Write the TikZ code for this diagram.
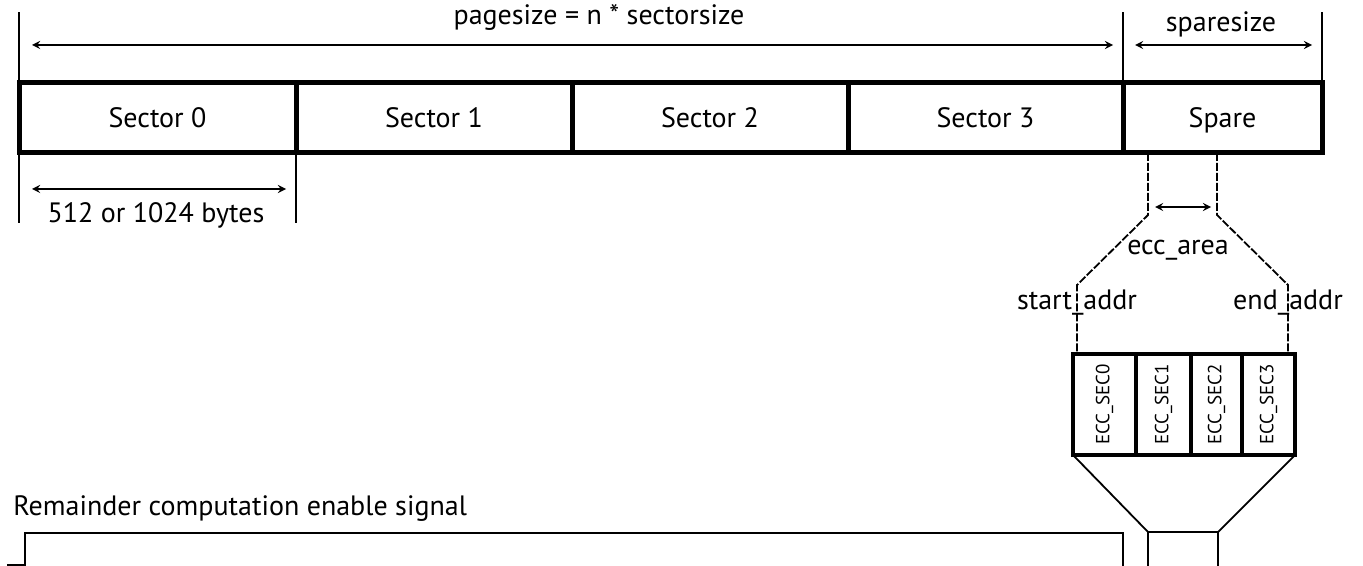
\documentclass[tikz,border=0pt]{standalone}
\usepackage{fontspec}
\setmainfont{PT Sans}
\usepackage{tikz}
\usetikzlibrary{positioning}

\begin{document}
\begin{tikzpicture}[
  x=0.5pt, y=-0.5pt,
  every node/.style={font=\fontsize{14}{16}\selectfont, inner sep=0pt},
  cell/.style={draw, line width=2.5pt, outer sep=0pt, minimum height=35pt,
    text height=10pt, text depth=0pt},
  ecc/.style={draw, line width=1.8pt, outer sep=0pt, minimum height=50.5pt,
    font=\fontsize{9.5}{11}\selectfont},
  tick/.style={line width=0.8pt},
  dim/.style={<->, >=stealth, line width=0.8pt},
  dashln/.style={line width=0.9pt, dash pattern=on 4pt off 1pt},
  thinln/.style={line width=0.9pt},
]
\useasboundingbox (0,0) rectangle (1363,566);

% Page row
\node (sec0) [cell, minimum width=138.5pt] at (157.5,118) {Sector 0};
\node (sec1) [cell, minimum width=138pt] at (434,118) {Sector 1};
\node (sec2) [cell, minimum width=138pt] at (710,118) {Sector 2};
\node (sec3) [cell, minimum width=137.5pt] at (985.5,118) {Sector 3};
\node (spare) [cell, minimum width=99.5pt] at (1222.5,118) {Spare};

% Dimension ticks
\coordinate (top) at (0,12);
\coordinate (low) at (0,223);
\draw[tick] (sec0.north west) -- (sec0.north west |- top);
\draw[tick] (sec3.north east) -- (sec3.north east |- top);
\draw[tick] (spare.north east) -- (spare.north east |- top);
\draw[tick] (sec0.south west) -- (sec0.south west |- low);
\draw[tick] (sec0.south east) -- (sec0.south east |- low);

% Dimension arrows and labels
\coordinate (pg1) at (32,45);
\coordinate (pg2) at (1113,45);
\coordinate (sp1) at (1135,45);
\coordinate (sp2) at (1312,45);
\coordinate (sc1) at (32,189);
\coordinate (sc2) at (286,189);
\draw[dim] (pg1) -- (pg2);
\draw[dim] (sp1) -- (sp2);
\draw[dim] (sc1) -- (sc2);
\node (pagelbl) [anchor=base] at (599,25) {pagesize = n * sectorsize};
\node (sparelbl) [anchor=base] at (1221,32) {sparesize};
\node (sectlbl) [anchor=base] at (156,223) {512 or 1024 bytes};

% ECC area taken from the spare
\coordinate (la) at (1148,215);
\coordinate (lb) at (1077,285);
\coordinate (ra) at (1217,215);
\coordinate (rb) at (1288,285);
\coordinate (ea1) at (1155,207);
\coordinate (ea2) at (1211,207);
\draw[dim] (ea1) -- (ea2);
\node (eccarea) [anchor=base] at (1178,255) {ecc\_area};
\node (startaddr) [anchor=base] at (1077,310) {start\_addr};
\node (endaddr) [anchor=base] at (1288,310) {end\_addr};

% ECC sectors
\node (ecc0) [ecc, minimum width=31.5pt] at (1104.5,404.5) {\rotatebox{90}{ECC\_SEC0}};
\node (ecc1) [ecc, minimum width=27.5pt] at (1163.5,404.5) {\rotatebox{90}{ECC\_SEC1}};
\node (ecc2) [ecc, minimum width=25.5pt] at (1216.5,404.5) {\rotatebox{90}{ECC\_SEC2}};
\node (ecc3) [ecc, minimum width=26.5pt] at (1268.5,404.5) {\rotatebox{90}{ECC\_SEC3}};
\draw[dashln] (spare.south -| la) -- (la) -- (lb) -- (lb |- ecc0.north);
\draw[dashln] (spare.south -| ra) -- (ra) -- (rb) -- (rb |- ecc3.north);

% Remainder block below
\coordinate (bl) at (1148,532);
\coordinate (br) at (1218,532);
\coordinate (floor) at (0,568);
\draw[thinln] (ecc0.south west) -- (bl);
\draw[thinln] (ecc3.south east) -- (br);
\draw[thinln] (bl |- floor) -- (bl) -- (br) -- (br |- floor);

% Enable signal
\node (remlbl) [anchor=base west] at (13,515) {Remainder computation enable signal};
\draw[thinln] (7,565) -- (25,565) -- (25,533) -- (1123,533) -- (1123,568);

\end{tikzpicture}
\end{document}
